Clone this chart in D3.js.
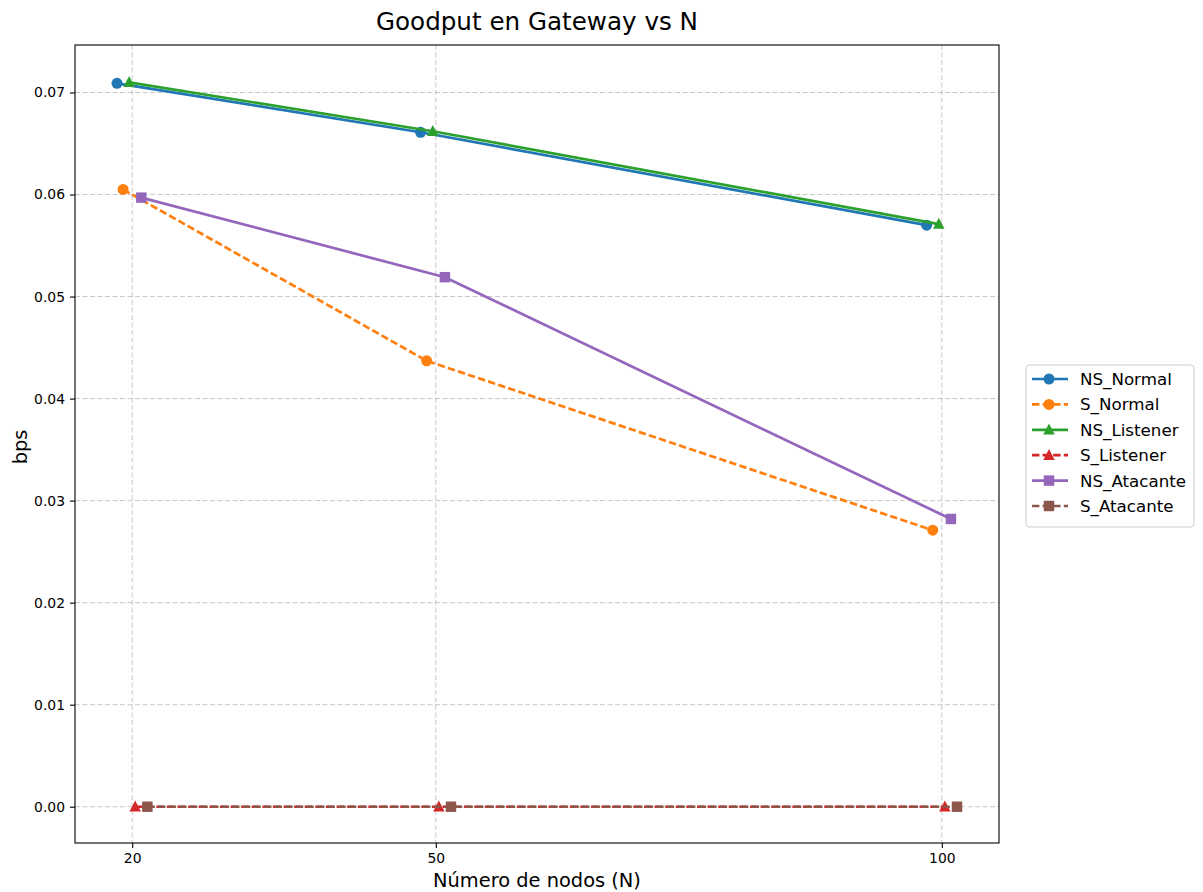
<!DOCTYPE html>
<html>
<head>
<meta charset="utf-8">
<script src="https://cdn.jsdelivr.net/npm/d3@7"></script>
<style>
  html, body { margin: 0; padding: 0; background: #fff; }
  svg { display: block; font-family: "DejaVu Sans", sans-serif; }
</style>
</head>
<body>
<svg id="chart" width="1203" height="892"></svg>
<script>
// Node counts on the x axis
const nodes = [20, 50, 100];
const xTicks = [20, 50, 100];
const yTicks = [0, 0.01, 0.02, 0.03, 0.04, 0.05, 0.06, 0.07];

// Goodput (bps) per scenario
const nsNormal   = [0.0709, 0.0661, 0.0570];
const sNormal    = [0.0605, 0.0437, 0.0271];
const nsListener = [0.0710, 0.0662, 0.0571];
const sListener  = [0.0, 0.0, 0.0];
const nsAtacante = [0.0597, 0.0519, 0.0282];
const sAtacante  = [0.0, 0.0, 0.0];

const seriesNames = ["NS_Normal", "S_Normal", "NS_Listener", "S_Listener", "NS_Atacante", "S_Atacante"];
const seriesValues = [nsNormal, sNormal, nsListener, sListener, nsAtacante, sAtacante];
// horizontal dodge so overlapping series stay visible
const dodge = [-1.5, -0.9, -0.3, 0.3, 0.9, 1.5];

const colors = ["#1f77b4", "#ff7f0e", "#2ca02c", "#d62728", "#9467bd", "#8c564b"];
const dashed = [false, true, false, true, false, true];
const markers = ["circle", "circle", "triangle", "triangle", "square", "square"];

const svg = d3.select("#chart");
const m = { left: 75, right: 999, top: 45, bottom: 843 };

// x domain: data range 18.5..101.5 with 5% padding
const xMin = 18.5, xMax = 101.5, xPad = (xMax - xMin) * 0.05;
const x = d3.scaleLinear().domain([xMin - xPad, xMax + xPad]).range([m.left, m.right]);
const yMaxData = 0.0711, yPad = yMaxData * 0.05;
const y = d3.scaleLinear().domain([-yPad, yMaxData + yPad]).range([m.bottom, m.top]);

// grid
const grid = svg.append("g");
grid.selectAll("line.gx").data(xTicks).join("line")
  .attr("x1", d => x(d)).attr("x2", d => x(d))
  .attr("y1", m.top).attr("y2", m.bottom)
  .attr("stroke", "#b0b0b0").attr("stroke-opacity", 0.7)
  .attr("stroke-width", 1).attr("stroke-dasharray", "5,2.5");
grid.selectAll("line.gy").data(yTicks).join("line")
  .attr("x1", m.left).attr("x2", m.right)
  .attr("y1", d => y(d)).attr("y2", d => y(d))
  .attr("stroke", "#b0b0b0").attr("stroke-opacity", 0.7)
  .attr("stroke-width", 1).attr("stroke-dasharray", "5,2.5");

// axes
const xAxis = d3.axisBottom(x).tickValues(xTicks).tickFormat(d3.format("d")).tickSize(5).tickPadding(5);
const yAxis = d3.axisLeft(y).tickValues(yTicks).tickFormat(d3.format(".2f")).tickSize(5).tickPadding(5);

const gx = svg.append("g").attr("transform", `translate(0,${m.bottom})`).call(xAxis);
const gy = svg.append("g").attr("transform", `translate(${m.left},0)`).call(yAxis);
[gx, gy].forEach(g => {
  g.select(".domain").remove();
  g.selectAll(".tick line").attr("stroke", "#000").attr("stroke-width", 1.1);
  g.selectAll(".tick text").attr("fill", "#000").style("font-size", "13.9px")
    .style("font-family", "DejaVu Sans");
});

// frame
svg.append("rect")
  .attr("x", m.left).attr("y", m.top)
  .attr("width", m.right - m.left).attr("height", m.bottom - m.top)
  .attr("fill", "none").attr("stroke", "#000").attr("stroke-width", 1.1);

function markerPath(kind, size) {
  if (kind === "circle") return d3.symbol(d3.symbolCircle, Math.PI * (size / 2) ** 2)();
  if (kind === "square") return d3.symbol(d3.symbolSquare, size * size * 0.9)();
  // upward triangle
  const h = size * 0.95;
  return `M0,${-h * 0.6}L${h * 0.55},${h * 0.45}L${-h * 0.55},${h * 0.45}Z`;
}

const dashPattern = "7.4,3.2";
const lineGen = d3.line().x(d => x(d.n)).y(d => y(d.v));

seriesValues.forEach((vals, i) => {
  const pts = nodes.map((n, k) => ({ n: n + dodge[i], v: vals[k] }));
  const g = svg.append("g");
  g.append("path").datum(pts)
    .attr("d", lineGen)
    .attr("fill", "none")
    .attr("stroke", colors[i])
    .attr("stroke-width", 2.7)
    .attr("stroke-dasharray", dashed[i] ? dashPattern : null);
  g.selectAll("path.mk").data(pts).join("path")
    .attr("class", "mk")
    .attr("transform", d => `translate(${x(d.n)},${y(d.v)})`)
    .attr("d", markerPath(markers[i], 11))
    .attr("fill", colors[i]);
});

// title and axis labels
svg.append("text").attr("x", (m.left + m.right) / 2).attr("y", 30)
  .attr("text-anchor", "middle").style("font-size", "24.6px").attr("fill", "#000")
  .text("Goodput en Gateway vs N");
svg.append("text").attr("x", (m.left + m.right) / 2).attr("y", 887)
  .attr("text-anchor", "middle").style("font-size", "19.4px").attr("fill", "#000")
  .text("Número de nodos (N)");
svg.append("text")
  .attr("transform", `translate(27,${(m.top + m.bottom) / 2 + 3}) rotate(-90)`)
  .attr("text-anchor", "middle").style("font-size", "19.4px").attr("fill", "#000")
  .text("bps");

// legend
const lg = svg.append("g").attr("transform", "translate(1026,365)");
lg.append("rect").attr("x", 0).attr("y", 0).attr("width", 168).attr("height", 162)
  .attr("rx", 3).attr("fill", "#fff").attr("fill-opacity", 0.8)
  .attr("stroke", "#cccccc").attr("stroke-width", 1);
seriesNames.forEach((name, i) => {
  const cy = 14 + i * 25.4;
  lg.append("line").attr("x1", 6).attr("x2", 42).attr("y1", cy).attr("y2", cy)
    .attr("stroke", colors[i]).attr("stroke-width", 2.7)
    .attr("stroke-dasharray", dashed[i] ? dashPattern : null);
  lg.append("path").attr("transform", `translate(23,${cy})`)
    .attr("d", markerPath(markers[i], 11)).attr("fill", colors[i]);
  lg.append("text").attr("x", 54).attr("y", cy + 6)
    .style("font-size", "16.7px").attr("fill", "#000").text(name);
});
</script>
</body>
</html>
